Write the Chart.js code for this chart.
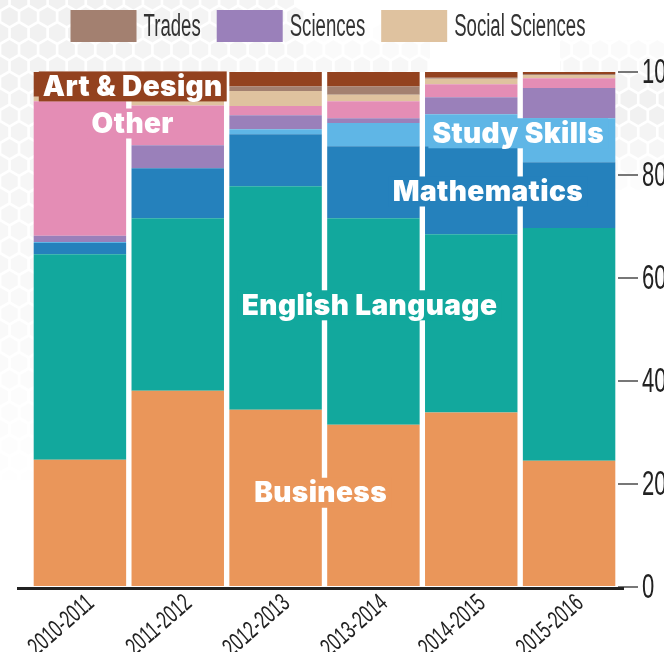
<!DOCTYPE html>
<html>
<head>
<meta charset="utf-8">
<script src="https://cdn.jsdelivr.net/npm/chart.js@4/dist/chart.umd.min.js"></script>
<style>
  html, body { margin: 0; padding: 0; background: #fff; overflow: hidden; width: 664px; height: 652px; }
  #wrap { position: absolute; left: 0; top: 0; width: 700px; height: 652px; }
</style>
</head>
<body>
<div id="wrap"><canvas id="chart"></canvas></div>
<script>
const categories = ["2010-2011", "2011-2012", "2012-2013", "2013-2014", "2014-2015", "2015-2016"];
const business = [24.7, 38.1, 34.4, 31.5, 33.9, 24.5];
const english = [39.9, 33.5, 43.4, 40.1, 34.6, 45.2];
const mathematics = [2.2, 9.7, 10.1, 14.0, 17.1, 12.8];
const studySkills = [0.2, 0, 1.0, 4.5, 6.2, 8.5];
const sciences = [1.2, 4.5, 2.7, 0.9, 3.3, 5.9];
const other = [26.1, 7.7, 1.8, 3.3, 2.5, 1.9];
const socialSciences = [0.9, 1.6, 2.9, 1.3, 1.1, 0.6];
const trades = [0, 0, 0.9, 1.6, 0.2, 0.2];
const artDesign = [4.8, 4.8, 2.8, 2.8, 1.1, 0.4];
const yTicks = [0, 20, 40, 60, 80, 100];

const series = [
  { label: "Business", data: business, color: "#EA965A" },
  { label: "English Language", data: english, color: "#12A89D" },
  { label: "Mathematics", data: mathematics, color: "#2581BC" },
  { label: "Study Skills", data: studySkills, color: "#5FB6E6" },
  { label: "Sciences", data: sciences, color: "#9A80BA" },
  { label: "Other", data: other, color: "#E48DB5" },
  { label: "Social Sciences", data: socialSciences, color: "#DFC29F" },
  { label: "Trades", data: trades, color: "#A38070" },
  { label: "Art & Design", data: artDesign, color: "#93421F" },
];

// only these three appear in the top legend
const legendNames = ["Trades", "Sciences", "Social Sciences"];

// in-bar labels: [series name, category position, value position]
const inlineLabels = [
  ["Art & Design", 0.54, 97.2],
  ["Other", 0.54, 90],
  ["Study Skills", 4.48, 88.1],
  ["Mathematics", 4.17, 76.8],
  ["English Language", 2.96, 54.7],
  ["Business", 2.46, 18.3],
];

const NARROW = "'Liberation Sans', Arial, sans-serif";

// draws text squeezed horizontally, to look like a condensed face
function narrowText(ctx, text, x, y, size, squeeze, align, angle) {
  ctx.save();
  ctx.translate(x, y);
  if (angle) ctx.rotate(angle);
  ctx.scale(squeeze, 1);
  ctx.font = size + "px " + NARROW;
  ctx.textAlign = align;
  ctx.textBaseline = "middle";
  ctx.fillText(text, 0, 0);
  ctx.restore();
}

// faint hexagon texture behind the chart, top-left corner
function hexTexture(ctx) {
  const r = 11;
  const w = Math.sqrt(3) * r;
  ctx.save();
  ctx.beginPath();
  ctx.rect(0, 0, 34, 480);
  ctx.rect(0, 0, 430, 72);
  ctx.rect(560, 40, 104, 150);
  ctx.clip();
  for (let row = 0; row < 34; row++) {
    for (let col = 0; col < 40; col++) {
      const cx = col * w + (row % 2 ? w / 2 : 0);
      const cy = row * r * 1.5;
      const fade = cx < 300 ? Math.max(0, 1 - (cx * 0.6 + cy) / 520) : Math.max(0, 1 - Math.abs(cy - 110) / 90);
      if (fade <= 0) continue;
      ctx.fillStyle = "rgba(0,0,0," + (0.06 * fade).toFixed(3) + ")";
      ctx.beginPath();
      for (let k = 0; k < 6; k++) {
        const a = Math.PI / 6 + k * Math.PI / 3;
        const px = cx + (r - 1.5) * Math.cos(a);
        const py = cy + (r - 1.5) * Math.sin(a);
        k ? ctx.lineTo(px, py) : ctx.moveTo(px, py);
      }
      ctx.closePath();
      ctx.fill();
    }
  }
  ctx.restore();
}

const decorPlugin = {
  id: "decor",
  beforeDraw(chart) {
    hexTexture(chart.ctx);
  },
  afterDraw(chart) {
    const ctx = chart.ctx;
    const xs = chart.scales.x;
    const ys = chart.scales.y;
    const area = chart.chartArea;
    ctx.save();

    // baseline
    ctx.strokeStyle = "#222";
    ctx.lineWidth = 3;
    ctx.beginPath();
    ctx.moveTo(area.left - 14, area.bottom + 1.5);
    ctx.lineTo(area.right + 6, area.bottom + 1.5);
    ctx.stroke();

    // in-bar series labels on a patch of their own colour
    ctx.font = "900 28px Inter, 'Open Sans', sans-serif";
    ctx.letterSpacing = "0.4px";
    ctx.textAlign = "center";
    ctx.textBaseline = "middle";
    inlineLabels.forEach(([name, cx, cy]) => {
      const s = series.find((d) => d.label === name);
      const x = xs.getPixelForValue(cx);
      const y = ys.getPixelForValue(cy);
      const w = ctx.measureText(name).width + 8;
      ctx.fillStyle = s.color;
      ctx.fillRect(x - w / 2, y - 15, w, 30);
      ctx.fillStyle = "#fff";
      ctx.fillText(name, x, y + 1);
    });
    ctx.letterSpacing = "0px";

    // y tick labels
    ctx.fillStyle = "#222";
    yTicks.forEach((v) => {
      narrowText(ctx, String(v), area.right + 24, ys.getPixelForValue(v) + 1, 35, 0.63, "left");
    });

    // x tick labels
    categories.forEach((c, i) => {
      narrowText(ctx, c, xs.getPixelForValue(i) + 11, area.bottom + 13, 25, 0.66, "right", -41 * Math.PI / 180);
    });

    // legend
    const lsq = 0.6;
    ctx.font = "31px " + NARROW;
    const boxW = 66, boxH = 32, gapIn = 7, gapOut = 16;
    const items = legendNames.map((n) => ({
      name: n,
      color: series.find((d) => d.label === n).color,
      tw: ctx.measureText(n).width * lsq,
    }));
    const total = items.reduce((a, it) => a + boxW + gapIn + it.tw, 0) + gapOut * (items.length - 1);
    let lx = 328 - total / 2;
    items.forEach((it) => {
      ctx.fillStyle = it.color;
      ctx.fillRect(lx, 10, boxW, boxH);
      ctx.fillStyle = "#333";
      narrowText(ctx, it.name, lx + boxW + gapIn, 27, 31, lsq, "left");
      lx += boxW + gapIn + it.tw + gapOut;
    });

    ctx.restore();
  },
};

new Chart(document.getElementById("chart"), {
  type: "bar",
  data: {
    labels: categories,
    datasets: series.map((s) => ({
      label: s.label,
      data: s.data,
      backgroundColor: s.color,
      borderWidth: 0,
      categoryPercentage: 1,
      barPercentage: 0.945,
    })),
  },
  options: {
    responsive: true,
    maintainAspectRatio: false,
    animation: false,
    layout: { padding: { top: 72, left: 31, right: 0, bottom: 0 } },
    plugins: { legend: { display: false }, tooltip: { enabled: false } },
    scales: {
      x: {
        stacked: true,
        grid: { display: false },
        border: { display: false },
        ticks: { display: false },
        afterFit: (s) => { s.height = 65; },
      },
      y: {
        stacked: true,
        position: "right",
        min: 0,
        max: 100,
        afterBuildTicks: (s) => { s.ticks = yTicks.map((v) => ({ value: v })); },
        grid: { drawOnChartArea: false, drawTicks: true, tickLength: 20, color: "#777", lineWidth: 2 },
        border: { display: false },
        ticks: { display: false },
        afterFit: (s) => { s.width = 82; },
      },
    },
  },
  plugins: [decorPlugin],
});
</script>
</body>
</html>
